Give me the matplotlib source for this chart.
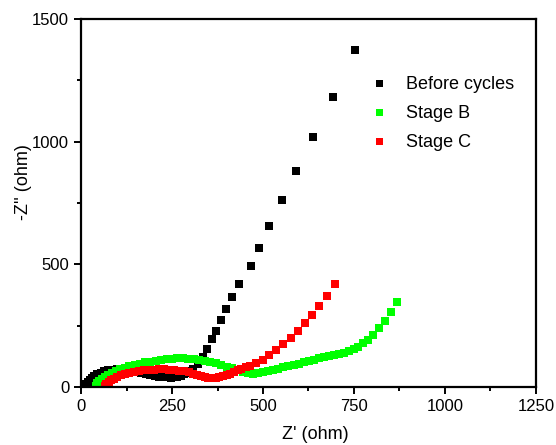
import matplotlib
matplotlib.use("Agg")
import matplotlib.pyplot as plt
from matplotlib.ticker import MultipleLocator

plt.rcParams['font.family'] = ['Liberation Sans', 'DejaVu Sans']

# Nyquist data, Z' and -Z'' in ohm
before_re = [12, 15, 19, 24, 30, 37, 45, 54, 64, 75, 87, 100, 113, 126, 139, 152,
             165, 178, 190, 202, 214, 225, 236, 246, 256, 265, 274, 283, 292, 300,
             309, 321, 334, 347, 359, 372, 385, 397, 415, 434, 467, 488, 517, 551,
             592, 638, 691, 753]
before_im = [3, 11, 20, 29, 38, 46, 53, 59, 64, 68, 71, 72, 72, 70, 67, 62,
             57, 52, 48, 45, 42, 40, 39, 38, 39, 41, 46, 52, 59, 66,
             74, 92, 121, 155, 194, 229, 273, 317, 368, 421, 494, 565, 656, 761,
             880, 1020, 1183, 1374]

stage_b_re = [40, 44, 50, 57, 65, 74, 84, 95, 107, 120, 133, 147, 161, 175, 190,
              205, 220, 235, 250, 265, 280, 295, 310, 325, 340, 355, 370, 385, 400,
              415, 430, 444, 458, 472, 486, 500, 514, 528, 542, 556, 570, 584, 598,
              612, 626, 640, 654, 668, 682, 696, 710, 723, 736, 749, 762, 775, 789,
              803, 818, 834, 851, 869]
stage_b_im = [6, 15, 24, 33, 42, 50, 58, 65, 72, 78, 84, 90, 95, 100, 104,
              108, 111, 114, 116, 117, 117, 116, 114, 111, 107, 102, 96, 90, 83,
              76, 69, 63, 58, 55, 56, 60, 65, 70, 75, 80, 85, 90, 95,
              101, 106, 112, 117, 122, 126, 130, 134, 139, 146, 155, 165, 178, 193,
              213, 240, 270, 305, 348]

stage_c_re = [66, 70, 76, 83, 91, 100, 110, 121, 133, 146, 159, 172, 186, 200,
              214, 228, 242, 256, 270, 283, 296, 308, 319, 330, 340, 350, 360, 370,
              380, 390, 400, 410, 420, 430, 440, 452, 464, 482, 499, 517, 537, 556,
              576, 595, 615, 634, 655, 675, 698]
stage_c_im = [5, 12, 19, 27, 34, 41, 47, 53, 58, 62, 66, 68, 70, 71,
              72, 72, 71, 69, 67, 64, 60, 55, 50, 45, 40, 37, 35, 36,
              39, 43, 49, 55, 62, 68, 74, 80, 86, 99, 112, 130, 151, 174,
              198, 228, 260, 293, 330, 371, 420]

fig = plt.figure(figsize=(5.56, 4.45), dpi=100)
ax = fig.add_axes([0.1457, 0.1303, 0.8183, 0.8267])

ms = 5.6
ax.plot(before_re, before_im, 's', color='black', ms=ms, mew=0, label='Before cycles')
ax.plot(stage_b_re, stage_b_im, 's', color='#00ff00', ms=ms, mew=0, label='Stage B')
ax.plot(stage_c_re, stage_c_im, 's', color='#ff0000', ms=ms, mew=0, label='Stage C')

ax.set_xlim(0, 1250)
ax.set_ylim(0, 1500)
ax.xaxis.set_major_locator(MultipleLocator(250))
ax.xaxis.set_minor_locator(MultipleLocator(125))
ax.yaxis.set_major_locator(MultipleLocator(500))
ax.yaxis.set_minor_locator(MultipleLocator(250))

for s in ax.spines.values():
    s.set_linewidth(1.6)
ax.tick_params(which='both', direction='out', width=1.4, labelsize=12,
               top=False, right=False)
ax.tick_params(which='major', length=5)
ax.tick_params(which='minor', length=3)

ax.set_xlabel("Z' (ohm)", fontsize=13)
ax.set_ylabel("-Z'' (ohm)", fontsize=13)
ax.xaxis.set_label_coords(0.515, -0.107)
ax.yaxis.set_label_coords(-0.108, 0.557)

ax.legend(loc='upper left', bbox_to_anchor=(0.6, 0.89), frameon=False,
          fontsize=13, handlelength=1.0, handletextpad=1.0, labelspacing=0.68,
          markerscale=0.9)

fig.savefig('out.png', dpi=100)
